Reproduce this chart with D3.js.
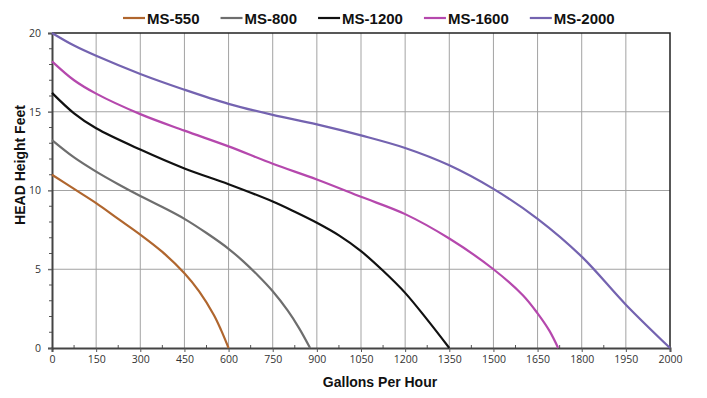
<!DOCTYPE html>
<html>
<head>
<meta charset="utf-8">
<script src="https://cdn.jsdelivr.net/npm/d3@7"></script>
<style>
  body { margin: 0; background: #fff; }
  svg { display: block; }
</style>
</head>
<body>
<div id="chart"></div>
<script>
// pump curves, gallons per hour vs head (ft)
const seriesNames = ["MS-550", "MS-800", "MS-1200", "MS-1600", "MS-2000"];
const seriesColors = ["#b0662e", "#6e6e6e", "#111111", "#b548ad", "#7463b0"];

const ms550 = [[0,11],[75,10.1],[150,9.2],[225,8.2],[300,7.2],[375,6.1],[450,4.75],[500,3.6],[550,2.1],[575,1.12],[600,0]];
const ms800 = [[0,13.2],[75,12.1],[150,11.2],[225,10.4],[300,9.65],[375,8.95],[450,8.2],[525,7.3],[600,6.3],[650,5.5],[700,4.6],[750,3.6],[800,2.4],[840,1.25],[877,0]];
const ms1200 = [[0,16.2],[75,14.9],[150,13.95],[300,12.6],[450,11.4],[600,10.4],[750,9.3],[825,8.65],[900,7.95],[975,7.15],[1050,6.15],[1125,4.9],[1200,3.5],[1275,1.8],[1350,0]];
const ms1600 = [[0,18.2],[75,17.0],[150,16.15],[300,14.85],[450,13.8],[600,12.8],[750,11.7],[900,10.7],[1050,9.6],[1200,8.5],[1350,6.95],[1500,5.0],[1600,3.35],[1650,2.2],[1690,1.1],[1720,0]];
const ms2000 = [[0,20],[75,19.2],[150,18.55],[300,17.4],[450,16.4],[600,15.5],[750,14.8],[900,14.2],[1050,13.5],[1200,12.7],[1350,11.6],[1500,10.1],[1650,8.2],[1800,5.8],[1950,2.75],[2000,0]];
const allSeries = [ms550, ms800, ms1200, ms1600, ms2000];

const xTicks = [0,150,300,450,600,750,900,1050,1200,1350,1500,1650,1800,1950,2000];
const yTicks = [0,5,10,15,20];

const svgWidth = 707;
const svgHeight = 398;
const margin = { top: 33, right: 37, bottom: 50, left: 52 };
const chartWidth = svgWidth - margin.left - margin.right;
const chartHeight = svgHeight - margin.top - margin.bottom;

const svg = d3.select("#chart").append("svg")
  .attr("width", svgWidth)
  .attr("height", svgHeight);

const g = svg.append("g")
  .attr("transform", `translate(${margin.left},${margin.top})`);

// the last gap (1950 -> 2000) is drawn as wide as the 150 steps, like the original
const step = chartWidth / 14;
const x = d3.scaleLinear()
  .domain([0, 1950, 2000])
  .range([0, step * 13, chartWidth]);
const y = d3.scaleLinear().domain([0, 20]).range([chartHeight, 0]);

// grid
g.append("g").selectAll("line")
  .data(xTicks.slice(1, -1))
  .join("line")
  .attr("x1", d => x(d)).attr("x2", d => x(d))
  .attr("y1", 0).attr("y2", chartHeight)
  .attr("stroke", "#a3a3a3").attr("stroke-width", 1);

g.append("g").selectAll("line")
  .data(yTicks.slice(1, -1))
  .join("line")
  .attr("x1", -4).attr("x2", chartWidth)
  .attr("y1", d => y(d)).attr("y2", d => y(d))
  .attr("stroke", "#a3a3a3").attr("stroke-width", 1);

// top and right frame
g.append("path")
  .attr("d", `M0,${y(20)}H${chartWidth}V${chartHeight}`)
  .attr("fill", "none")
  .attr("stroke", "#222")
  .attr("stroke-width", 1.5);

// minor ticks
g.append("g").selectAll("line")
  .data(d3.range(0, 21, 1).filter(d => d % 5 !== 0))
  .join("line")
  .attr("x1", -3).attr("x2", 0)
  .attr("y1", d => y(d)).attr("y2", d => y(d))
  .attr("stroke", "#555");

g.append("g").selectAll("line")
  .data(d3.range(75, 1950, 150))
  .join("line")
  .attr("x1", d => x(d)).attr("x2", d => x(d))
  .attr("y1", chartHeight - 3).attr("y2", chartHeight)
  .attr("stroke", "#555");

// axes
const xAxis = g.append("g")
  .attr("transform", `translate(0,${chartHeight})`)
  .call(d3.axisBottom(x).tickValues(xTicks).tickSize(4).tickPadding(4).tickFormat(d => d));

const yAxis = g.append("g")
  .call(d3.axisLeft(y).tickValues(yTicks).tickSize(4).tickPadding(7));

[xAxis, yAxis].forEach(a => {
  a.select(".domain").attr("stroke", "#444").attr("stroke-width", 2);
  a.selectAll(".tick line").attr("stroke", "#555");
  a.selectAll(".tick text")
    .attr("fill", "#333")
    .style("font-family", "'Open Sans', 'DejaVu Sans', sans-serif")
    .style("font-size", "10.5px");
});

// curves
const line = d3.line()
  .x(d => x(d[0]))
  .y(d => y(d[1]))
  .curve(d3.curveCatmullRom.alpha(0.5));

allSeries.forEach((s, i) => {
  g.append("path")
    .datum(s)
    .attr("d", line)
    .attr("fill", "none")
    .attr("stroke", seriesColors[i])
    .attr("stroke-width", 2.2);
});

// axis titles
svg.append("text")
  .attr("x", 380)
  .attr("y", 387)
  .attr("text-anchor", "middle")
  .style("font-family", "'Liberation Sans', Arial, sans-serif")
  .style("font-weight", "bold")
  .style("font-size", "14px")
  .attr("fill", "#111")
  .text("Gallons Per Hour");

svg.append("text")
  .attr("transform", "translate(25,165) rotate(-90)")
  .attr("text-anchor", "middle")
  .style("font-family", "'Liberation Sans', Arial, sans-serif")
  .style("font-weight", "bold")
  .style("font-size", "14px")
  .attr("fill", "#111")
  .text("HEAD Height Feet");

// legend
const legend = svg.append("g").attr("transform", "translate(123,18)");
let lx = 0;
seriesNames.forEach((name, i) => {
  legend.append("line")
    .attr("x1", lx).attr("x2", lx + 22)
    .attr("y1", 0).attr("y2", 0)
    .attr("stroke", seriesColors[i])
    .attr("stroke-width", 2.2);
  const t = legend.append("text")
    .attr("x", lx + 24)
    .attr("y", 5.5)
    .style("font-family", "'Liberation Sans', Arial, sans-serif")
    .style("font-weight", "bold")
    .style("font-size", "15px")
    .attr("fill", "#111")
    .text(name);
  lx += 24 + t.node().getComputedTextLength() + 21;
});
</script>
</body>
</html>
